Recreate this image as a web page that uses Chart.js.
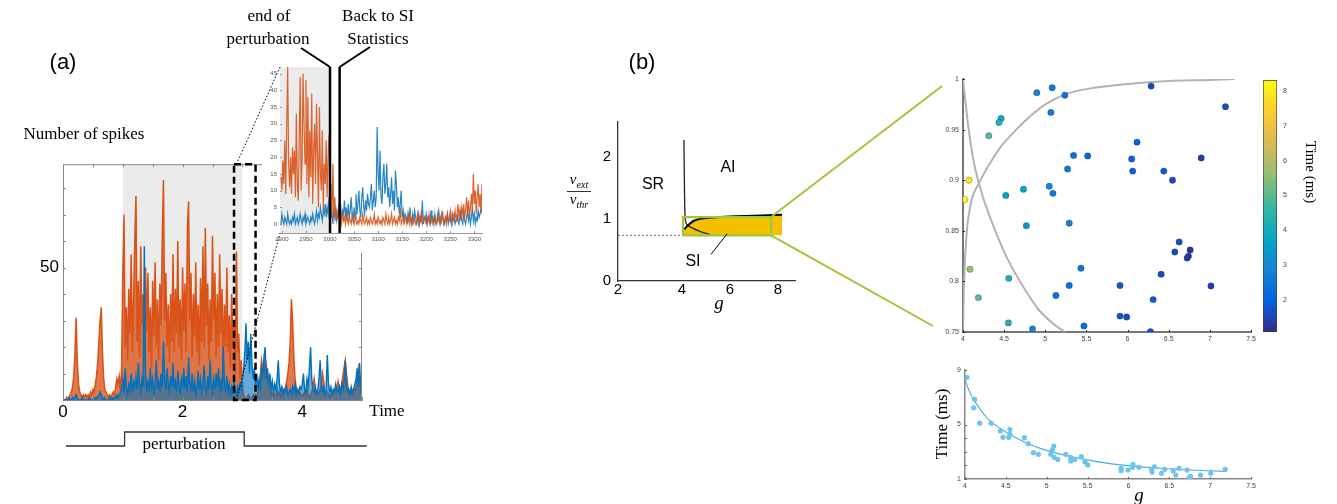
<!DOCTYPE html>
<html>
<head>
<meta charset="utf-8">
<script src="https://cdn.jsdelivr.net/npm/chart.js@4.4.1/dist/chart.umd.min.js"></script>
<style>
body{margin:0;background:#fff;width:1337px;height:504px;position:relative;overflow:hidden;font-family:'Liberation Sans',Arial,sans-serif;}
canvas{position:absolute;}
.t{position:absolute;white-space:nowrap;transform:translate(-50%,-50%);line-height:1;color:#000;z-index:5;}
.serif{font-family:'Liberation Serif','Times New Roman',serif;}
svg{position:absolute;left:0;top:0;z-index:4;pointer-events:none;}
</style>
</head>
<body>
<canvas id="cMain" width="420" height="280" style="left:0;top:150px;z-index:1"></canvas>
<canvas id="cInset" width="225" height="193" style="left:262px;top:60px;z-index:2;background:#fff"></canvas>
<canvas id="cPhase" width="215" height="205" style="left:590px;top:110px"></canvas>
<canvas id="cScatter" width="330" height="285" style="left:930px;top:70px"></canvas>
<canvas id="cBar" width="50" height="270" style="left:1255px;top:70px"></canvas>
<canvas id="cFit" width="330" height="140" style="left:930px;top:360px"></canvas>
<svg id="over" width="1337" height="504"></svg>

<div class="t" style="left:63px;top:62px;font-size:22px">(a)</div>
<div class="t serif" style="left:84px;top:133px;font-size:17px">Number of spikes</div>
<div class="t serif" style="left:387px;top:410px;font-size:17px">Time</div>
<div class="t serif" style="left:184px;top:443px;font-size:17px">perturbation</div>
<div class="t serif" style="left:269px;top:15px;font-size:17px">end of</div>
<div class="t serif" style="left:268px;top:38px;font-size:17px">perturbation</div>
<div class="t serif" style="left:378px;top:15px;font-size:17px">Back to SI</div>
<div class="t serif" style="left:378px;top:38px;font-size:17px">Statistics</div>
<div class="t" style="left:642px;top:62px;font-size:22px">(b)</div>
<div class="t" style="left:653px;top:184px;font-size:16px">SR</div>
<div class="t" style="left:728px;top:167px;font-size:16px">AI</div>
<div class="t" style="left:693px;top:261px;font-size:16px">SI</div>
<div class="t serif" style="left:719px;top:302px;font-size:19px;font-style:italic">g</div>
<div class="t serif" style="left:579px;top:181px;font-size:15px;font-style:italic">ν<sub style="font-size:10px">ext</sub></div>
<div style="position:absolute;left:567px;top:191px;width:24px;height:1px;background:#333"></div>
<div class="t serif" style="left:579px;top:201px;font-size:15px;font-style:italic">ν<sub style="font-size:10px">thr</sub></div>
<div class="t serif" style="left:1310px;top:172px;font-size:15px;transform:translate(-50%,-50%) rotate(90deg)">Time (ms)</div>
<div class="t serif" style="left:941px;top:424px;font-size:17px;transform:translate(-50%,-50%) rotate(-90deg)">Time (ms)</div>
<div class="t serif" style="left:1139px;top:494px;font-size:19px;font-style:italic">g</div>

<script>
// ---- (a) spike counts, 0..5 s sampled every 0.02 s
const mainT0 = 0, mainDt = 0.02;
const mainOrange = [
  0,0,0,1,0,1,2,3,5,9,
  18,31,14,6,3,2,1,2,1,2,
  1,2,1,3,2,4,3,6,9,14,
  22,30,35,18,8,4,3,2,1,2,
  1,2,3,2,5,8,6,9,4,12,
  48,70,20,35,15,42,25,55,18,38,
  60,77,22,45,16,58,28,40,14,50,
  26,48,18,35,12,45,24,52,20,38,
  15,44,28,62,83,30,48,20,36,14,
  40,22,55,18,42,25,60,20,38,15,
  50,26,44,18,65,75,30,48,16,40,
  24,52,18,36,13,46,22,58,20,65,
  28,44,15,38,22,62,30,48,16,40,
  20,55,25,42,14,36,20,50,18,32,
  12,40,20,30,10,56,18,25,8,15,
  6,2,1,0,1,2,1,0,1,2,
  1,2,1,3,5,9,15,12,14,8,
  13,10,6,4,3,2,3,1,2,4,
  2,3,1,2,4,3,5,7,10,14,
  22,38,30,16,8,5,3,2,3,2,
  1,2,3,2,4,2,1,2,3,5,
  8,4,2,3,2,4,6,10,7,3,
  2,3,2,1,2,3,2,4,3,5,
  7,4,3,6,9,12,15,10,6,3,
  2,3,2,4,3,5,8,12,9,6,
  4
];
const mainBlue = [
  0,0,0,0,0,1,0,0,1,0,
  1,2,1,0,0,0,1,0,0,0,
  0,0,1,0,0,0,1,0,1,1,
  2,3,2,1,0,1,0,0,0,1,
  0,1,0,1,1,2,1,2,3,4,
  8,3,12,5,2,6,4,10,3,7,
  5,9,4,14,6,3,8,5,58,10,
  4,7,3,12,5,8,2,6,15,4,
  7,3,10,5,22,8,4,12,6,3,
  9,5,14,4,7,3,11,6,2,8,
  5,12,4,9,3,16,6,4,10,3,
  7,2,5,11,4,8,3,6,13,5,
  3,9,4,15,6,3,8,4,10,5,
  12,4,7,3,20,6,4,9,3,6,
  2,5,3,7,4,2,5,3,6,4,
  8,12,18,29,15,22,10,25,14,8,
  12,6,10,4,8,5,12,9,16,20,
  8,12,5,10,4,7,3,6,4,8,
  15,6,3,5,2,4,3,5,2,3,
  4,2,5,3,6,2,4,3,5,4,
  6,10,4,3,8,5,12,20,8,4,
  3,5,2,4,8,15,6,3,5,2,
  4,17,6,3,5,2,4,3,6,4,
  3,5,2,6,4,8,15,5,3,4,
  2,5,3,4,6,8,12,5,14,4,
  6
];
const mainXTicks = [0,0.5,1,1.5,2,2.5,3,3.5,4,4.5,5];
const mainXLabels = {0:'0',2:'2',4:'4'};
const mainYTicks = [0,10,20,30,40,50,60,70,80];
const mainYLabels = {50:'50'};

// ---- inset, 2898..3316 ms every 2 ms
const insetT0 = 2898, insetDt = 2;
const insetOrange = [
  14,10,19,12,25,9,30,47,18,11,
  20,9,23,15,22,8,33,12,7,26,
  44,10,20,45,30,18,43,12,38,8,
  28,14,39,6,22,30,12,36,20,5,
  35,15,10,28,4,18,12,25,8,20,
  27,12,6,3,18,2,8,1,4,2,
  3,1,2,0,4,1,2,0,3,1,
  0,2,1,0,3,1,0,2,1,0,
  1,0,2,1,0,3,1,0,1,2,
  0,1,0,2,1,0,1,3,0,1,
  0,2,1,0,1,0,2,1,0,3,
  1,0,2,0,1,3,0,1,2,0,
  1,0,2,1,5,0,1,2,0,1,
  2,0,1,3,0,2,1,0,2,1,
  0,1,3,0,2,1,4,0,1,2,
  1,0,2,1,3,0,1,2,0,1,
  2,0,1,3,1,0,2,1,4,0,
  1,2,0,3,1,2,4,1,0,3,
  2,4,1,3,6,2,4,1,5,3,
  6,2,4,8,3,7,2,5,9,4,
  15,6,10,3,8,12,5,9,4,12
];
const insetBlue = [
  0,3,1,0,2,1,0,3,1,0,
  1,0,2,1,3,0,1,2,0,1,
  3,1,0,2,1,3,0,1,2,1,
  0,2,1,3,1,0,2,4,1,3,
  2,5,3,1,4,3,6,2,5,3,
  8,2,6,3,0,5,2,4,1,3,
  5,2,6,1,4,3,7,2,5,1,
  6,2,4,8,3,1,5,2,9,3,
  6,10,4,2,8,11,5,3,7,4,
  9,6,5,8,12,4,7,10,5,8,
  29,15,10,22,8,6,14,18,9,12,
  18,8,11,5,9,14,6,10,4,16,
  12,5,8,3,6,10,2,4,1,3,
  2,0,3,1,5,2,0,3,1,4,
  2,0,1,3,0,2,1,7,0,2,
  1,3,0,2,1,0,4,1,2,0,
  3,1,0,2,4,1,0,3,2,1,
  0,2,1,3,0,1,2,0,3,1,
  2,0,1,3,1,0,2,4,1,0,
  3,1,0,2,4,1,3,0,2,5,
  1,3,0,2,1,4,2,3,5,3
];
const insetXTicks = [2900,2950,3000,3050,3100,3150,3200,3250,3300];
const insetYTicks = [0,5,10,15,20,25,30,35,40,45];
const insetMarks = [3000, 3020];

// ---- (b) phase diagram
const phaseXTicks = [1.333,4,6,8];
const phaseYTicks = [0,1,2];
const siUpperG  = [4.02,4.1,4.2,4.35,4.5,4.75,5.17,6,7,8.17];
const siUpperNu = [0.76,0.83,0.88,0.93,0.97,1.0,1.02,1.04,1.05,1.065];
const srBoundG  = [4.08,4.1,4.12,4.14,4.2,4.4,4.75,5.17];
const srBoundNu = [2.27,1.6,1.1,0.98,0.91,0.86,0.8,0.745];
const zoomG  = [4.04,7.71];
const zoomNu = [0.735,1.03];

// ---- (b) scatter of sampled points
const ptG = [4.897,5.084,5.238,5.068,6.286,7.19,4.463,4.438,4.313,4.073,4.02,4.52,4.735,4.77,4.085,4.187,4.556,4.552,4.845,5.048,5.093,5.271,5.344,5.515,5.291,5.433,5.291,5.129,5.47,6.115,6.05,6.062,6.44,6.546,6.895,6.627,6.574,6.76,6.74,6.724,6.408,5.908,7.013,6.311,5.908,5.989,6.278];
const ptNu = [0.9865,0.9914,0.984,0.967,0.993,0.9726,0.961,0.957,0.944,0.9,0.881,0.885,0.891,0.855,0.812,0.784,0.803,0.759,0.753,0.894,0.887,0.911,0.9245,0.924,0.8575,0.813,0.796,0.786,0.756,0.9376,0.921,0.909,0.909,0.9,0.922,0.839,0.829,0.831,0.825,0.823,0.807,0.796,0.7955,0.782,0.7657,0.7648,0.7503];
const ptTime = [2.8,2.6,2.5,2.6,1.6,1.7,4.0,4.3,5.0,7.9,8.3,3.7,3.8,3.3,5.7,5.0,4.2,4.4,2.8,2.9,2.6,2.6,2.3,2.1,2.7,2.5,2.3,2.4,2.2,2.0,2.0,1.9,1.8,1.6,1.4,1.7,1.6,1.2,1.3,1.3,1.6,1.8,1.4,1.8,1.7,1.6,1.7];
const riseG  = [4.0,4.01,4.03,4.06,4.12,4.2,4.3,4.45,4.6,4.8,5.0,5.25,5.5,6.0,6.5,7.0,7.3];
const riseNu = [0.75,0.79,0.83,0.86,0.885,0.898,0.913,0.932,0.946,0.962,0.975,0.985,0.99,0.995,0.998,0.999,1.0];
const fallG  = [4.0,4.06,4.12,4.195,4.325,4.53,4.73,4.93,5.1,5.24];
const fallNu = [1.0,0.956,0.923,0.896,0.864,0.824,0.795,0.771,0.758,0.75];
const scXTicks = [4,4.5,5,5.5,6,6.5,7,7.5];
const scYTicks = [0.75,0.8,0.85,0.9,0.95,1];
const cbarTicks = [2,3,4,5,6,7,8];
const timeMin = 1.08, timeMax = 8.32;

// ---- (b) time vs g
const fitPtG = [4.024,4.118,4.106,4.18,4.318,4.433,4.465,4.55,4.55,4.535,4.727,4.776,4.837,4.898,5.049,5.069,5.086,5.09,5.135,5.233,5.29,5.294,5.343,5.424,5.469,5.502,5.91,5.91,5.996,6.049,6.057,6.127,6.282,6.29,6.318,6.404,6.445,6.547,6.58,6.62,6.718,6.743,6.759,6.882,7.008,7.184];
const fitPtT = [8.46,6.84,6.23,5.1,5.1,4.52,4.06,4.64,4.28,4.06,4.03,3.59,2.93,2.81,2.81,3.13,3.42,2.59,2.44,2.81,2.59,2.32,2.44,2.64,2.25,2.03,1.78,1.61,1.66,1.86,2.08,1.86,1.71,1.51,1.9,1.42,1.71,1.61,1.29,1.78,1.66,1.1,1.2,1.29,1.42,1.71];
const fitG = [4.0,4.05,4.1,4.2,4.3,4.5,4.75,5.0,5.25,5.5,5.75,6.0,6.25,6.5,6.75,7.0,7.2];
const fitT = [8.3,7.5,6.9,6.0,5.3,4.45,3.65,3.1,2.7,2.4,2.15,1.98,1.85,1.75,1.66,1.6,1.55];
const fitXTicks = [4,4.5,5,5.5,6,6.5,7,7.5];
const fitYTicks = [1,2,3,4,5,9];
const fitYLabels = {1:'1',5:'5',9:'9'};

const ORANGE = '#D95319', BLUE = '#0072BD', GREEN = '#9BC83A';
const parula = ['#352a87','#0363e1','#1485d4','#06a7c6','#38b99e','#92bf73','#d9ba56','#fcce2e','#f9fb0e'];

function hexRgb(h) { return [1,3,5].map(i => parseInt(h.substr(i,2),16)); }
function parulaAt(f) {
    f = Math.min(1, Math.max(0, f)) * (parula.length - 1);
    const i = Math.min(parula.length - 2, Math.floor(f)), r = f - i;
    const a = hexRgb(parula[i]), b = hexRgb(parula[i+1]);
    return 'rgb(' + a.map((v,k) => Math.round(v + (b[k]-v)*r)).join(',') + ')';
}
const xy = (xs, ys) => xs.map((x, i) => ({x, y: ys[i]}));
const series = (t0, dt, ys) => ys.map((y, i) => ({x: t0 + i * dt, y}));
const fixTicks = arr => scale => { scale.ticks = arr.map(v => ({value: v})); };
const fixW = w => scale => { scale.width = w; };
const fixH = h => scale => { scale.height = h; };

const framePlugin = {
    id: 'frame',
    beforeDatasetsDraw(chart, args, o) {
        if (!o.shade) return;
        const {ctx, chartArea: a, scales: {x}} = chart;
        const x0 = Math.max(a.left, x.getPixelForValue(o.shade[0]));
        const x1 = Math.min(a.right, x.getPixelForValue(o.shade[1]));
        ctx.save();
        ctx.fillStyle = '#ebebeb';
        ctx.fillRect(x0, a.top, x1 - x0, a.bottom - a.top);
        ctx.restore();
    },
    afterDraw(chart, args, o) {
        const {ctx, chartArea: a, scales: {x, y}} = chart;
        ctx.save();
        if (o.tickLen) {
            ctx.strokeStyle = o.color || '#666';
            ctx.lineWidth = 1;
            ctx.beginPath();
            x.ticks.forEach(t => {
                const p = Math.round(x.getPixelForValue(t.value)) + 0.5;
                ctx.moveTo(p, a.bottom); ctx.lineTo(p, a.bottom - o.tickLen);
                if (o.box) { ctx.moveTo(p, a.top); ctx.lineTo(p, a.top + o.tickLen); }
            });
            y.ticks.forEach(t => {
                const p = Math.round(y.getPixelForValue(t.value)) + 0.5;
                ctx.moveTo(a.left, p); ctx.lineTo(a.left + o.tickLen, p);
                if (o.box) { ctx.moveTo(a.right, p); ctx.lineTo(a.right - o.tickLen, p); }
            });
            ctx.stroke();
        }
        if (o.box) {
            ctx.strokeStyle = o.color || '#666';
            ctx.lineWidth = 1;
            ctx.beginPath();
            ctx.moveTo(a.left, a.top + 0.5); ctx.lineTo(a.right, a.top + 0.5);
            ctx.moveTo(a.right - 0.5, a.top); ctx.lineTo(a.right - 0.5, a.bottom);
            ctx.stroke();
        }
        if (o.marks) {
            ctx.strokeStyle = '#000';
            ctx.lineWidth = 2.5;
            ctx.beginPath();
            o.marks.forEach(v => {
                const p = x.getPixelForValue(v);
                ctx.moveTo(p, a.top); ctx.lineTo(p, a.bottom);
            });
            ctx.stroke();
        }
        if (o.zoomBox) {
            const x0 = x.getPixelForValue(o.zoomBox[0]), x1 = x.getPixelForValue(o.zoomBox[1]);
            ctx.strokeStyle = '#000';
            ctx.lineWidth = 2.5;
            ctx.setLineDash([7, 4]);
            ctx.strokeRect(x0, a.top, x1 - x0, a.bottom - a.top);
        }
        ctx.restore();
    }
};
Chart.register(framePlugin);
Chart.defaults.animation = false;
Chart.defaults.responsive = false;
Chart.defaults.plugins.legend.display = false;
Chart.defaults.plugins.tooltip.enabled = false;
Chart.defaults.font.family = "'Liberation Sans', Arial, sans-serif";

// (a) main spike plot
const mainChart = new Chart(document.getElementById('cMain'), {
    type: 'line',
    data: {
        datasets: [
            {data: series(mainT0, mainDt, mainBlue), borderColor: BLUE, borderWidth: 1.4, pointRadius: 0, order: 0,
             fill: 'origin', backgroundColor: 'rgba(0,114,189,0.6)'},
            {data: series(mainT0, mainDt, mainOrange), borderColor: ORANGE, borderWidth: 1.5, pointRadius: 0, order: 1,
             fill: 'origin', backgroundColor: 'rgba(217,83,25,0.78)'}
        ]
    },
    options: {
        layout: {padding: {left: 0, right: 58, top: 7, bottom: 0}},
        scales: {
            x: {
                type: 'linear', min: 0, max: 5,
                afterBuildTicks: fixTicks(mainXTicks), afterFit: fixH(30),
                grid: {display: false, drawTicks: false},
                border: {color: '#888'},
                ticks: {padding: 2, color: '#000', font: {size: 17}, maxRotation: 0, autoSkip: false,
                        callback: v => mainXLabels[v] || ''}
            },
            y: {
                min: 0, max: 89,
                afterBuildTicks: fixTicks(mainYTicks), afterFit: fixW(63),
                grid: {display: false, drawTicks: false},
                border: {color: '#888'},
                ticks: {padding: 4, color: '#000', font: {size: 17}, autoSkip: false,
                        callback: v => mainYLabels[v] || ''}
            }
        },
        plugins: {frame: {shade: [1, 3], tickLen: 3, color: '#888', box: true, zoomBox: [2.86, 3.22]}}
    }
});

// (a) inset
const insetChart = new Chart(document.getElementById('cInset'), {
    type: 'line',
    data: {
        datasets: [
            {data: series(insetT0, insetDt, insetOrange), borderColor: 'rgba(217,83,25,0.9)', borderWidth: 1.2, pointRadius: 0, order: 0},
            {data: series(insetT0, insetDt, insetBlue), borderColor: 'rgba(0,114,189,0.85)', borderWidth: 1.2, pointRadius: 0, order: 1}
        ]
    },
    options: {
        layout: {padding: {left: 0, right: 5, top: 7, bottom: 0}},
        scales: {
            x: {
                type: 'linear', min: 2896, max: 3316,
                afterBuildTicks: fixTicks(insetXTicks), afterFit: fixH(20),
                grid: {display: false, drawTicks: false},
                border: {color: '#999'},
                ticks: {padding: 3, color: '#555', font: {size: 6}, maxRotation: 0, autoSkip: false,
                        callback: v => String(v)}
            },
            y: {
                min: -2.7, max: 47,
                afterBuildTicks: fixTicks(insetYTicks), afterFit: fixW(18),
                grid: {display: false, drawTicks: false},
                border: {color: '#999'},
                ticks: {padding: 3, color: '#555', font: {size: 6}, autoSkip: false}
            }
        },
        plugins: {frame: {shade: [2890, 3000], tickLen: 2, color: '#999', box: false, marks: insetMarks}}
    }
});

// (b) phase diagram
const phaseChart = new Chart(document.getElementById('cPhase'), {
    type: 'line',
    data: {
        datasets: [
            {data: xy(siUpperG, siUpperNu), borderWidth: 0, backgroundColor: '#F5C000', fill: {value: 0.735}, pointRadius: 0, order: 9},
            {data: xy(siUpperG.slice(1), siUpperNu.slice(1)), borderColor: '#000', borderWidth: 2, pointRadius: 0, order: 2, tension: 0.3},
            {data: xy(srBoundG, srBoundNu), borderColor: '#222', borderWidth: 1.3, pointRadius: 0, order: 2, tension: 0.3},
            {data: [{x: zoomG[0], y: zoomNu[0]}, {x: zoomG[0], y: zoomNu[1]}, {x: zoomG[1], y: zoomNu[1]}, {x: zoomG[1], y: zoomNu[0]}, {x: zoomG[0], y: zoomNu[0]}],
             borderColor: GREEN, borderWidth: 2.2, pointRadius: 0, order: 1},
            {data: [{x: 1.333, y: zoomNu[0]}, {x: zoomG[0], y: zoomNu[0]}], borderColor: '#777', borderWidth: 1, borderDash: [2, 2], pointRadius: 0, order: 3},
            {data: [{x: 5.21, y: 0.43}, {x: 5.88, y: 0.76}], borderColor: '#000', borderWidth: 1, pointRadius: 0, order: 0}
        ]
    },
    options: {
        layout: {padding: {left: 0, right: 10, top: 10, bottom: 0}},
        scales: {
            x: {
                type: 'linear', min: 1.333, max: 8.71,
                afterBuildTicks: fixTicks(phaseXTicks), afterFit: fixH(34),
                grid: {display: false, drawTicks: true, tickLength: 3, color: '#333'},
                border: {color: '#333', width: 1.3},
                ticks: {padding: -3, color: '#000', font: {size: 15}, maxRotation: 0, autoSkip: false,
                        callback: v => v < 2 ? '2' : String(v)}
            },
            y: {
                min: 0, max: 2.56,
                afterBuildTicks: fixTicks(phaseYTicks), afterFit: fixW(28),
                grid: {display: false, drawTicks: true, tickLength: 4, color: '#333'},
                border: {color: '#333', width: 1.3},
                ticks: {padding: 3, color: '#000', font: {size: 15}, autoSkip: false}
            }
        }
    }
});

// (b) scatter with colour coded time
const scatterChart = new Chart(document.getElementById('cScatter'), {
    type: 'scatter',
    data: {
        datasets: [
            {data: xy(ptG, ptNu), pointRadius: 3.2, pointBackgroundColor: ptTime.map(t => parulaAt((t - timeMin) / (timeMax - timeMin))),
             pointBorderColor: 'rgba(30,30,70,0.45)', pointBorderWidth: 0.6, order: 0},
            {type: 'line', data: xy(riseG, riseNu), borderColor: '#b3b3b3', borderWidth: 2, pointRadius: 0, tension: 0.3, order: 1},
            {type: 'line', data: xy(fallG, fallNu), borderColor: '#b3b3b3', borderWidth: 2, pointRadius: 0, tension: 0.3, order: 1}
        ]
    },
    options: {
        layout: {padding: {left: 0, right: 9, top: 9, bottom: 0}},
        scales: {
            x: {
                min: 4, max: 7.5,
                afterBuildTicks: fixTicks(scXTicks), afterFit: fixH(23),
                grid: {display: false, drawTicks: false},
                border: {color: '#777', width: 2},
                ticks: {padding: 3, color: '#444', font: {size: 7}, maxRotation: 0, autoSkip: false,
                        callback: v => String(v)}
            },
            y: {
                min: 0.75, max: 1,
                afterBuildTicks: fixTicks(scYTicks), afterFit: fixW(33),
                grid: {display: false, drawTicks: false},
                border: {color: '#777', width: 2},
                ticks: {padding: 4, color: '#444', font: {size: 7}, autoSkip: false,
                        callback: v => String(v)}
            }
        },
        plugins: {frame: {tickLen: 2, color: '#222'}}
    }
});

// colour bar
new Chart(document.getElementById('cBar'), {
    type: 'bar',
    data: {
        labels: [''],
        datasets: [{
            data: [[timeMin, timeMax]],
            backgroundColor: c => {
                const a = c.chart.chartArea;
                if (!a) return null;
                const g = c.chart.ctx.createLinearGradient(0, a.bottom, 0, a.top);
                parula.forEach((col, i) => g.addColorStop(i / (parula.length - 1), col));
                return g;
            },
            borderColor: '#444', borderWidth: 1, borderSkipped: false,
            barPercentage: 1, categoryPercentage: 1
        }]
    },
    options: {
        layout: {padding: {left: 8, right: 0, top: 10, bottom: 8}},
        scales: {
            x: {display: false},
            y: {
                position: 'right', min: timeMin, max: timeMax,
                afterBuildTicks: fixTicks(cbarTicks), afterFit: fixW(28),
                grid: {display: false, drawTicks: true, tickLength: 3, color: '#444'},
                border: {display: false},
                ticks: {padding: 3, color: '#444', font: {size: 7}, autoSkip: false}
            }
        }
    }
});

// (b) time vs g
new Chart(document.getElementById('cFit'), {
    type: 'scatter',
    data: {
        datasets: [
            {data: xy(fitPtG, fitPtT), pointRadius: 2.6, pointBackgroundColor: 'rgb(110,196,236)', pointBorderWidth: 0, order: 0},
            {type: 'line', data: xy(fitG, fitT), borderColor: 'rgb(70,175,225)', borderWidth: 1.1, pointRadius: 0, tension: 0.4, order: 1}
        ]
    },
    options: {
        layout: {padding: {left: 0, right: 9, top: 10, bottom: 0}},
        scales: {
            x: {
                min: 4, max: 7.5,
                afterBuildTicks: fixTicks(fitXTicks), afterFit: fixH(21),
                grid: {display: false, drawTicks: false},
                border: {color: '#888', width: 1.5},
                ticks: {padding: 3, color: '#444', font: {size: 7}, maxRotation: 0, autoSkip: false,
                        callback: v => String(v)}
            },
            y: {
                min: 1, max: 9,
                afterBuildTicks: fixTicks(fitYTicks), afterFit: fixW(35),
                grid: {display: false, drawTicks: false},
                border: {color: '#888', width: 1.5},
                ticks: {padding: 4, color: '#444', font: {size: 7}, autoSkip: false,
                        callback: v => fitYLabels[v] || ''}
            }
        },
        plugins: {frame: {tickLen: 2, color: '#666'}}
    }
});

// connectors and call-outs, placed from the charts' own scales
function px(chart, canvasId, xv, yv) {
    const c = document.getElementById(canvasId);
    return [c.offsetLeft + chart.scales.x.getPixelForValue(xv), c.offsetTop + chart.scales.y.getPixelForValue(yv)];
}
function line(p, q, stroke, w, dash) {
    const el = document.createElementNS('http://www.w3.org/2000/svg', 'line');
    el.setAttribute('x1', p[0]); el.setAttribute('y1', p[1]);
    el.setAttribute('x2', q[0]); el.setAttribute('y2', q[1]);
    el.setAttribute('stroke', stroke); el.setAttribute('stroke-width', w);
    if (dash) el.setAttribute('stroke-dasharray', dash);
    document.getElementById('over').appendChild(el);
}
function poly(pts, stroke, w) {
    const el = document.createElementNS('http://www.w3.org/2000/svg', 'polyline');
    el.setAttribute('points', pts.map(p => p.join(',')).join(' '));
    el.setAttribute('fill', 'none'); el.setAttribute('stroke', stroke); el.setAttribute('stroke-width', w);
    document.getElementById('over').appendChild(el);
}

const mTop = px(mainChart, 'cMain', 2.9, 89), mBot = px(mainChart, 'cMain', 2.9, 0);
const iTop = px(insetChart, 'cInset', 2896, 47), iBot = px(insetChart, 'cInset', 2896, -2.7);
line(mTop, iTop, '#000', 1, '1.5,2');
line(mBot, iBot, '#000', 1, '1.5,2');

const endMark = px(insetChart, 'cInset', insetMarks[0], 47);
const backMark = px(insetChart, 'cInset', insetMarks[1], 47);
line(endMark, [301, 48], '#000', 2);
line(backMark, [370, 47], '#000', 2);

const s0 = px(mainChart, 'cMain', 0.05, 0)[0], s1 = px(mainChart, 'cMain', 1.03, 0)[0];
const s3 = px(mainChart, 'cMain', 3.03, 0)[0], s5 = px(mainChart, 'cMain', 5.08, 0)[0];
poly([[s0, 446], [s1, 446], [s1, 432], [s3, 432], [s3, 446], [s5, 446]], '#333', 1.3);

const gTop = px(phaseChart, 'cPhase', zoomG[1], zoomNu[1]);
const gBot = px(phaseChart, 'cPhase', zoomG[1], zoomNu[0]);
line(gTop, [942, 86], GREEN, 2);
line(gBot, [933, 326], GREEN, 2);
</script>
</body>
</html>
